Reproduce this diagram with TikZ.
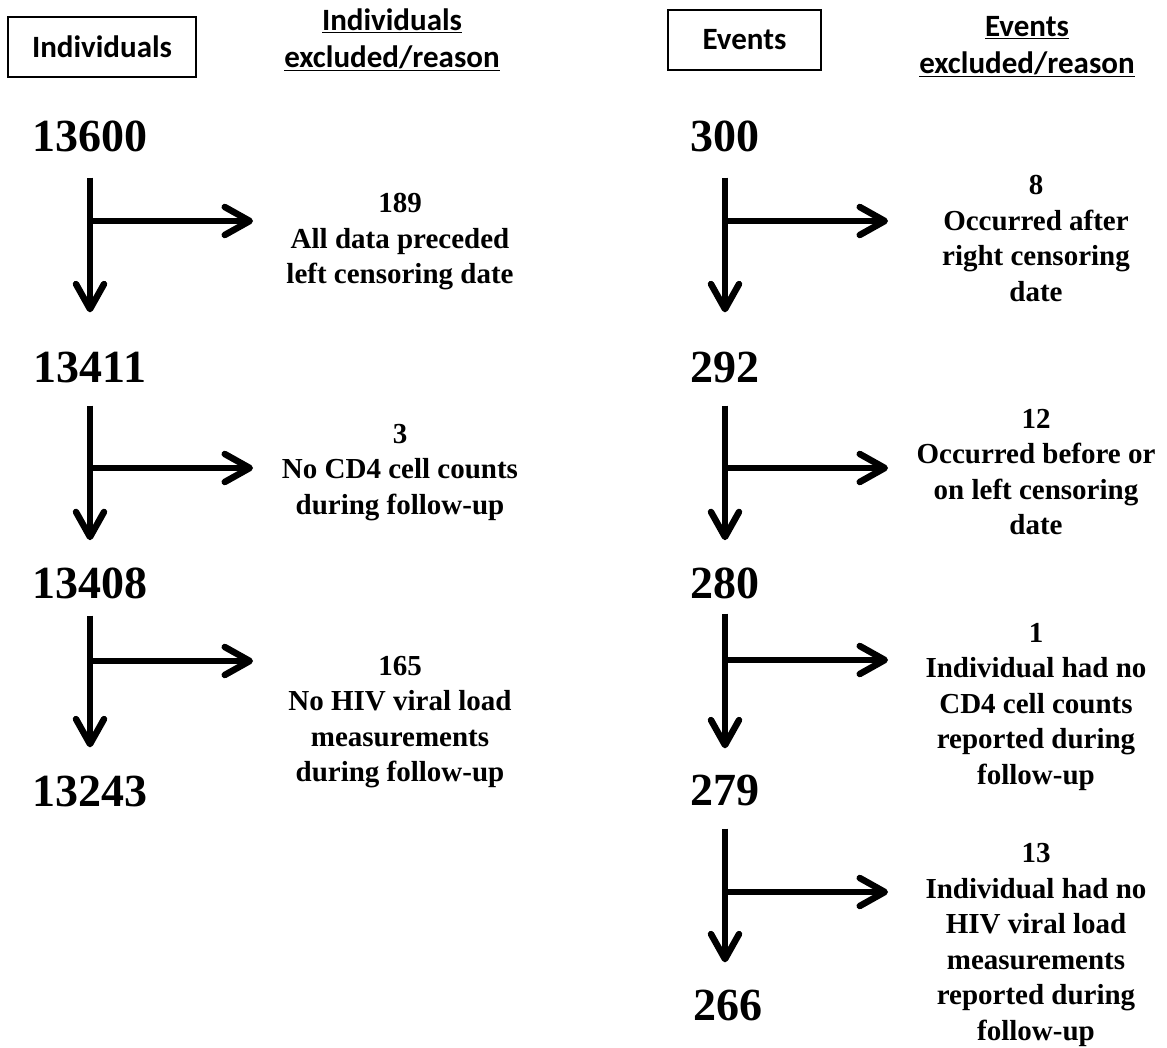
\documentclass[tikz,border=0pt]{standalone}
\usepackage{fontspec}
\setmainfont{Liberation Serif}
\newfontfamily\calib{Carlito}
\usetikzlibrary{arrows.meta}
\begin{document}
\begin{tikzpicture}[x=1pt,y=-1pt,
  num/.style={font=\bfseries\fontsize{46}{50}\selectfont, inner sep=0pt, anchor=base},
  lab/.style={font=\bfseries\fontsize{29}{35.5}\selectfont, align=center, inner sep=0pt, anchor=base},
  hdr/.style={font=\calib\bfseries\fontsize{31}{37}\selectfont, align=center, inner sep=0pt, anchor=base},
  hbox/.style={draw, line width=2pt, font=\calib\bfseries\fontsize{31}{37}\selectfont, inner sep=0pt, minimum height=60pt},
  flow/.style={line width=6.5pt, -{Straight Barb[length=25pt,width=28pt,round]}}
]
\useasboundingbox (0,0) rectangle (1167,1048);

% header boxes and titles (base anchor = baseline of the last line)
\node[hbox, minimum width=188pt] (boxl) at (102,47) {Individuals};
\node[hbox, minimum width=153pt] (boxr) at (744.5,40) {Events\hspace{26pt}};
\node[hdr] (hl) at (392,67.5) {\underline{Individuals}\\\underline{excluded/reason}};
\node[hdr] (hr) at (1027,73.5) {\underline{Events}\\\underline{excluded/reason}};

% left column numbers
\node[num] (l1) at (90,152) {13600};
\node[num] (l2) at (90,383) {13411};
\node[num] (l3) at (90,598) {13408};
\node[num] (l4) at (90,806) {13243};

% right column numbers
\node[num] (r1) at (725,152) {300};
\node[num] (r2) at (725,383) {292};
\node[num] (r3) at (725,598) {280};
\node[num] (r4) at (725,805) {279};
\node[num] (r5) at (728,1020) {266};

% left exclusion labels
\node[lab] (t1) at (400,284) {189\\All data preceded\\left censoring date};
\node[lab] (t2) at (400,514) {3\\No CD4 cell counts\\during follow-up};
\node[lab] (t3) at (400,781.5) {165\\No HIV viral load\\measurements\\during follow-up};

% right exclusion labels
\node[lab] (s1) at (1036,301.5) {8\\Occurred after\\right censoring\\date};
\node[lab] (s2) at (1036,534.5) {12\\Occurred before or\\on left censoring\\date};
\node[lab] (s3) at (1036,784) {1\\Individual had no\\CD4 cell counts\\reported during\\follow-up};
\node[lab] (s4) at (1036,1040) {13\\Individual had no\\HIV viral load\\measurements\\reported during\\follow-up};

% vertical flow arrows
\draw[flow, shorten <=25pt, shorten >=40pt] (l1.south) -- (l2.north);
\draw[flow, shorten <=22pt, shorten >=27pt] (l2.south) -- (l3.north);
\draw[flow, shorten <=17pt, shorten >=28pt] (l3.south) -- (l4.north);
\draw[flow, shorten <=25pt, shorten >=40pt] (r1.south) -- (r2.north);
\draw[flow, shorten <=22pt, shorten >=27pt] (r2.south) -- (r3.north);
\draw[flow, shorten <=15pt, shorten >=26pt] (r3.south) -- (r4.north);
\draw[flow, shorten <=23pt, shorten >=27pt] (r4.south) -- (r4.south |- r5.north);

% branch points and exclusion arrows
\coordinate (lb1) at (90,221);  \coordinate (le1) at (253,221);
\coordinate (lb2) at (90,468);  \coordinate (le2) at (253,468);
\coordinate (lb3) at (90,661);  \coordinate (le3) at (253,661);
\coordinate (rb1) at (725,221); \coordinate (re1) at (888,221);
\coordinate (rb2) at (725,468); \coordinate (re2) at (888,468);
\coordinate (rb3) at (725,660); \coordinate (re3) at (888,660);
\coordinate (rb4) at (725,892); \coordinate (re4) at (888,892);
\draw[flow] (lb1) -- (le1);
\draw[flow] (lb2) -- (le2);
\draw[flow] (lb3) -- (le3);
\draw[flow] (rb1) -- (re1);
\draw[flow] (rb2) -- (re2);
\draw[flow] (rb3) -- (re3);
\draw[flow] (rb4) -- (re4);
\end{tikzpicture}
\end{document}
